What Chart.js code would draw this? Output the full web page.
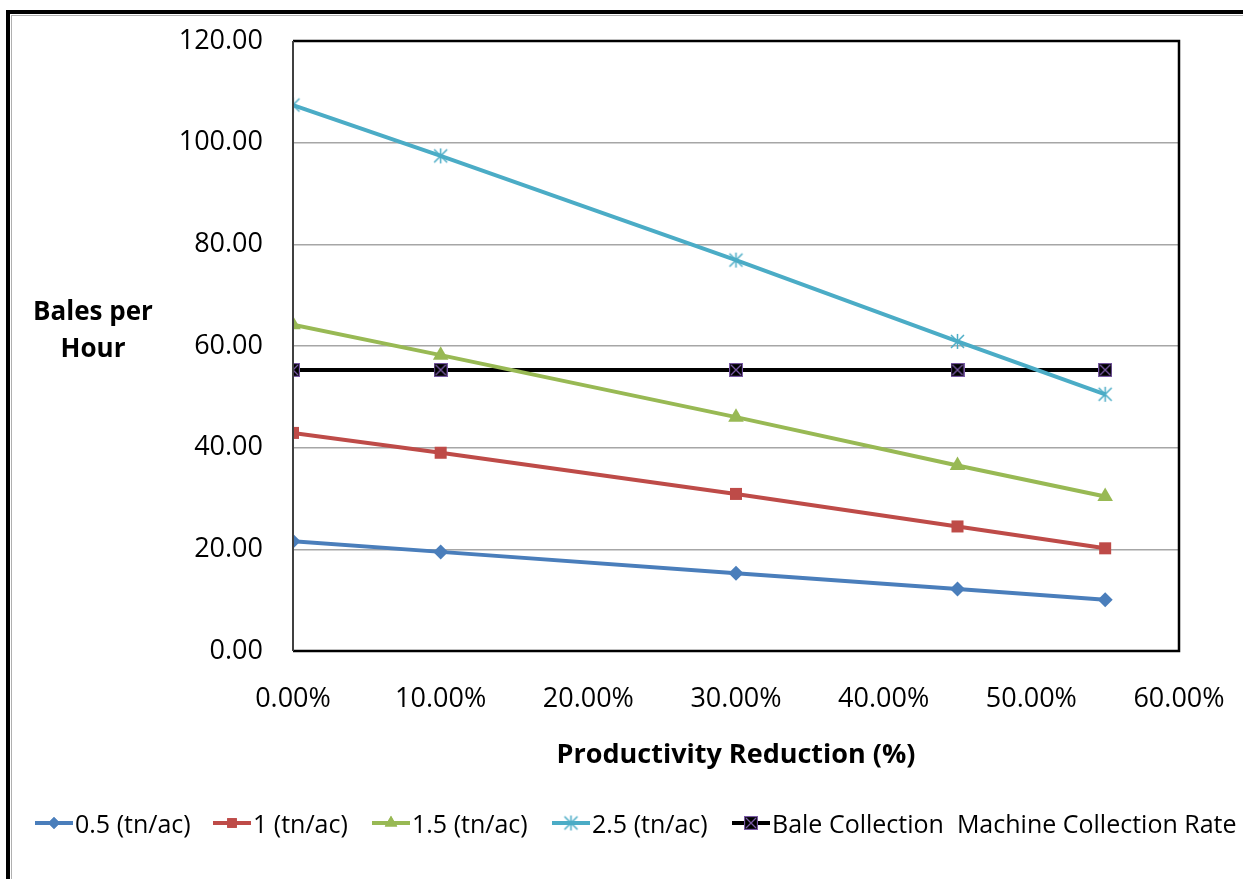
<!DOCTYPE html>
<html>
<head>
<meta charset="utf-8">
<script src="https://cdn.jsdelivr.net/npm/chart.js@4"></script>
<style>
  body { margin: 0; background: #fff; font-family: "Open Sans", sans-serif; }
  #wrap { position: relative; width: 1243px; height: 879px; overflow: hidden; }
  #frame { position: absolute; left: 6px; top: 10px; width: 1300px; height: 866px;
           border-top: 4px solid #000; border-left: 4px solid #000; }
  #frame .inner { position: absolute; left: 1px; top: 1px; right: 0; bottom: 0;
           border-top: 1px solid #b0b0b0; border-left: 1px solid #b0b0b0; border-bottom: 1px solid #ddd; }
  canvas#chart { position: absolute; left: 0; top: 0; }
  .ytitle { position: absolute; left: 18px; top: 292px; width: 150px; text-align: center;
            font-weight: bold; font-size: 26px; line-height: 37px; color: #000; }
  .xtitle { position: absolute; left: 436px; top: 734px; width: 600px; text-align: center;
            font-weight: bold; font-size: 27px; line-height: 37px; color: #000; }
  .leg { position: absolute; top: 808px; height: 30px; display: flex; align-items: center;
         font-size: 25px; color: #000; white-space: pre; }
  .leg canvas { margin-right: 2px; }
</style>
</head>
<body>
<div id="wrap">
  <div id="frame"><div class="inner"></div></div>
  <canvas id="chart" width="1243" height="879"></canvas>
  <div class="ytitle">Bales per<br>Hour</div>
  <div class="xtitle">Productivity Reduction (%)</div>
  <div id="legend"></div>
</div>
<script>
// Données
const reduction = [0, 0.10, 0.30, 0.45, 0.55];
const seriesNames = ["0.5 (tn/ac)", "1 (tn/ac)", "1.5 (tn/ac)", "2.5 (tn/ac)", "Bale Collection  Machine Collection Rate"];
const yield05 = [21.6, 19.5, 15.3, 12.2, 10.1];
const yield1 = [42.9, 39.0, 30.9, 24.5, 20.2];
const yield15 = [64.2, 58.2, 46.0, 36.5, 30.4];
const yield25 = [107.4, 97.4, 76.9, 60.9, 50.5];
const machineRate = [55.3, 55.3, 55.3, 55.3, 55.3];
const yTicks = [0, 20, 40, 60, 80, 100, 120];
const xTicks = [0, 0.1, 0.2, 0.3, 0.4, 0.5, 0.6];

const colors = ["#4A7EBB", "#BE4B48", "#98B954", "#4BACC6", "#000000"];

// Marqueurs spéciaux
function starMarker(color) {
  const c = document.createElement("canvas");
  c.width = 17; c.height = 17;
  const g = c.getContext("2d");
  g.strokeStyle = color; g.lineWidth = 1.5;
  g.beginPath();
  g.moveTo(2, 2); g.lineTo(15, 15);
  g.moveTo(15, 2); g.lineTo(2, 15);
  g.moveTo(8.5, 1); g.lineTo(8.5, 16);
  g.stroke();
  return c;
}
function boxXMarker() {
  const c = document.createElement("canvas");
  c.width = 14; c.height = 14;
  const g = c.getContext("2d");
  g.fillStyle = "#000"; g.fillRect(0, 0, 14, 14);
  g.strokeStyle = "#7a5aa6"; g.lineWidth = 1.3;
  g.strokeRect(0.5, 0.5, 13, 13);
  g.beginPath();
  g.moveTo(2, 2); g.lineTo(12, 12);
  g.moveTo(12, 2); g.lineTo(2, 12);
  g.stroke();
  return c;
}

const allValues = [yield05, yield1, yield15, yield25, machineRate];
const styles = ["rectRot", "rect", "triangle", starMarker(colors[3]), boxXMarker()];
const radii = [7.5, 8.5, 9, 8, 7];

const datasets = allValues.map((vals, i) => ({
  label: seriesNames[i],
  data: vals.map((v, k) => ({ x: reduction[k], y: v })),
  borderColor: colors[i],
  backgroundColor: colors[i],
  borderWidth: 4,
  pointStyle: styles[i],
  pointRadius: radii[i],
  pointBorderWidth: 0,
  pointHoverRadius: radii[i],
  tension: 0
}));

// Cadre de la zone de tracé
const plotBorder = {
  id: "plotBorder",
  afterDraw(chart) {
    const { ctx, chartArea: a } = chart;
    ctx.save();
    ctx.strokeStyle = "#000";
    ctx.lineWidth = 2.5;
    ctx.beginPath();
    ctx.moveTo(a.left, a.top); ctx.lineTo(a.right, a.top);
    ctx.lineTo(a.right, a.bottom); ctx.lineTo(a.left, a.bottom);
    ctx.stroke();
    ctx.strokeStyle = "#404040";
    ctx.lineWidth = 2;
    ctx.beginPath();
    ctx.moveTo(a.left, a.top); ctx.lineTo(a.left, a.bottom);
    ctx.stroke();
    ctx.restore();
  }
};

new Chart(document.getElementById("chart"), {
  type: "line",
  data: { datasets },
  options: {
    responsive: false,
    animation: false,
    layout: { padding: { top: 41, right: 64, left: 0, bottom: 0 } },
    plugins: { legend: { display: false }, tooltip: { enabled: false } },
    scales: {
      x: {
        type: "linear", min: 0, max: 0.6,
        afterBuildTicks: s => { s.ticks = xTicks.map(v => ({ value: v })); },
        afterFit: s => { s.height = 228; s.paddingLeft = 0; s.paddingRight = 0; },
        grid: { display: false, drawTicks: false },
        border: { display: false },
        ticks: { padding: 32, color: "#000", font: { family: "Open Sans", size: 27 },
                 maxRotation: 0, callback: v => (v * 100).toFixed(2) + "%" }
      },
      y: {
        min: 0, max: 120,
        afterBuildTicks: s => { s.ticks = yTicks.map(v => ({ value: v })); },
        afterFit: s => { s.width = 293; s.paddingTop = 0; s.paddingBottom = 0; },
        grid: { color: "#a6a6a6", lineWidth: 1.5, drawTicks: false },
        border: { display: false },
        ticks: { padding: 30, color: "#000", font: { family: "Open Sans", size: 27 },
                 callback: v => v.toFixed(2) }
      }
    }
  },
  plugins: [plotBorder]
});

// Légende
const legendX = [35, 213, 372, 552, 732];
const legend = document.getElementById("legend");
seriesNames.forEach((name, i) => {
  const item = document.createElement("div");
  item.className = "leg";
  item.style.left = legendX[i] + "px";
  const ic = document.createElement("canvas");
  ic.width = 38; ic.height = 20;
  const g = ic.getContext("2d");
  g.strokeStyle = colors[i]; g.lineWidth = 4;
  g.beginPath(); g.moveTo(0, 10); g.lineTo(38, 10); g.stroke();
  g.fillStyle = colors[i];
  const r = typeof styles[i] === "string" ? radii[i] * 0.8 : radii[i];
  Chart.helpers.drawPoint(g, { pointStyle: styles[i], radius: r, borderWidth: 0 }, 19, 10);
  if (typeof styles[i] === "string") g.fill();
  item.appendChild(ic);
  const t = document.createElement("span");
  t.textContent = name;
  item.appendChild(t);
  legend.appendChild(item);
});
</script>
</body>
</html>
